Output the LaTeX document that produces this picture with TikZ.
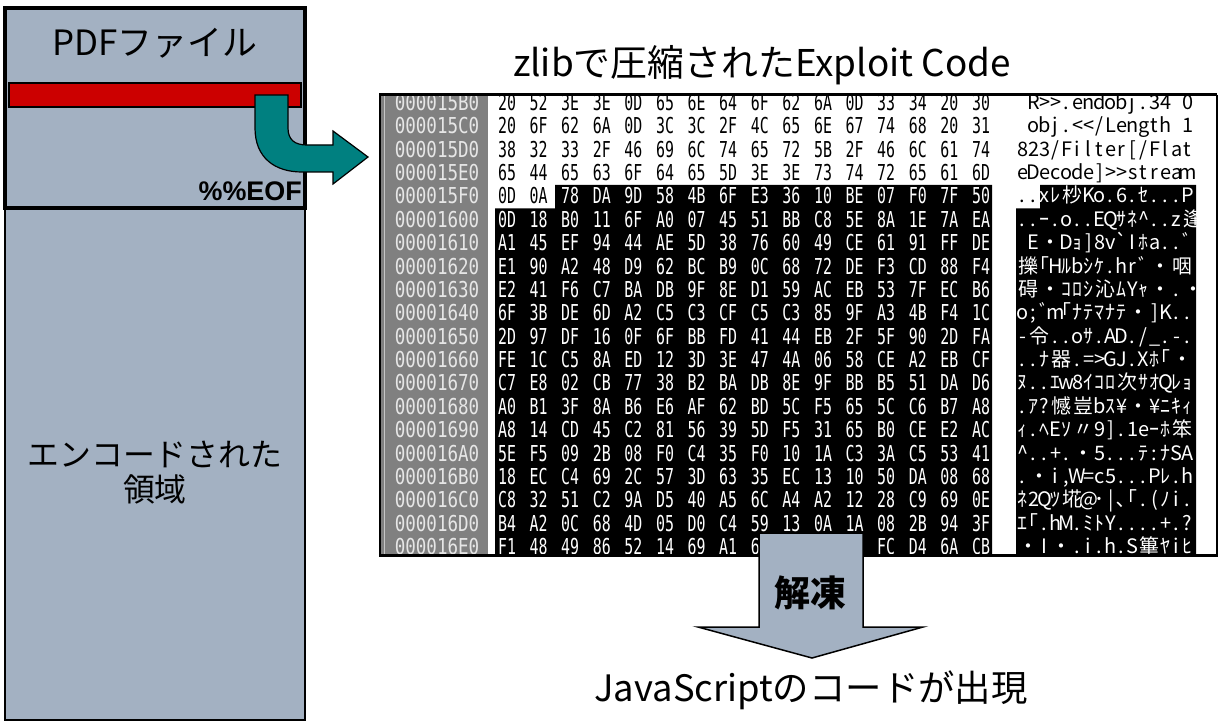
\documentclass[tikz,border=0pt]{standalone}
\usepackage{fontspec}
\setmainfont{Noto Sans CJK JP}
\newfontfamily\hexfont[FakeStretch=0.68]{DejaVu Sans Mono}
\newfontfamily\adrfont[FakeStretch=0.8]{DejaVu Sans Mono}
\newfontfamily\dumpfont{Noto Sans CJK JP}
\newfontfamily\eoffont{Liberation Sans}
\definecolor{boxgrey}{HTML}{A3B1C2}
\definecolor{tealarrow}{HTML}{008080}
\definecolor{pdfred}{HTML}{CC0000}
\definecolor{adrgrey}{HTML}{808080}
\definecolor{adrtext}{HTML}{E6E6E6}
\newlength\cellwd \setlength\cellwd{11bp}
\def\tcells#1{\tcellsA#1\relax}
\def\tcellsA#1{\ifx\relax#1\else\tcellone{#1}\expandafter\tcellsA\fi}
\def\tcellone#1{\ifnum`#1>"1FFF \ifnum`#1>"FF60 \ifnum`#1<"FFA0 \hbox to\cellwd{\hss#1\hss}\else\hbox to2\cellwd{\hss#1\hss}\fi\else\hbox to2\cellwd{\hss#1\hss}\fi\else\hbox to\cellwd{\hss#1\hss}\fi}
\tikzset{
  hexcell/.style={inner sep=0, font=\hexfont\fontsize{22}{22}\selectfont, text height=16bp, text depth=1bp},
  adrcell/.style={inner sep=0, font=\adrfont\fontsize{22}{22}\selectfont, text=adrtext, text height=16bp, text depth=1bp},
  dumpline/.style={inner sep=0, anchor=west, font=\dumpfont\fontsize{20}{20}\selectfont, text height=16bp, text depth=3bp},
  biglabel/.style={inner sep=0, font=\fontsize{34}{36}\selectfont},
  blockarrow/.style={fill=boxgrey, draw=black, line width=1.5bp, line join=miter},
}
\begin{document}
\def\^{\char94 }
\begin{tikzpicture}[x=1bp,y=-1bp]
\useasboundingbox (0,0) rectangle (1220,722);
\fill[white] (0,0) rectangle (1220,722);
% ---- left PDF file column
\draw[fill=boxgrey, line width=1.5bp] (5,208) rectangle (305,720);
\draw[fill=boxgrey, line width=4.5bp] (5,8) rectangle (305,208);
\draw[fill=pdfred, line width=1.5bp] (9,83) rectangle (301,107);
\node[biglabel, font=\fontsize{35}{36}\selectfont] (pdf) at (155,43) {PDFファイル};
\node[inner sep=0, anchor=east, font=\eoffont\bfseries\fontsize{27}{27}\selectfont] (eof) at (302,191) {\%\%EOF};
\node[inner sep=0, align=center, font=\fontsize{32}{35}\selectfont] (enc) at (155,473) {エンコードされた\\領域};
% ---- title
\node[biglabel, font=\fontsize{37}{38}\selectfont] (title) at (762,65) {zlibで圧縮されたExploit Code};
% ---- hex dump
\fill[adrgrey] (381,96) rectangle (488,554);
\draw[gray!45, line width=1bp] (384,96) -- (384,554);
% black background
\fill[black] (555,185) -- (992,185) -- (992,555) -- (495,555) -- (495,208.5) -- (555,208.5) -- cycle;
\fill[black] (1040,185) -- (1196,185) -- (1196,555) -- (1016,555) -- (1016,208.5) -- (1040,208.5) -- cycle;
% addresses
\foreach \a [count=\i from 0] in {000015B0,000015C0,000015D0,000015E0,000015F0,00001600,00001610,00001620,00001630,00001640,00001650,00001660,00001670,00001680,00001690,000016A0,000016B0,000016C0,000016D0,000016E0}{
  \node[adrcell] (a\i) at (437,{103+23.37*\i}) {\a};
}
% hex bytes
\foreach \r [count=\i from 0] in {
 {20,52,3E,3E,0D,65,6E,64,6F,62,6A,0D,33,34,20,30},
 {20,6F,62,6A,0D,3C,3C,2F,4C,65,6E,67,74,68,20,31},
 {38,32,33,2F,46,69,6C,74,65,72,5B,2F,46,6C,61,74},
 {65,44,65,63,6F,64,65,5D,3E,3E,73,74,72,65,61,6D},
 {0D,0A,78,DA,9D,58,4B,6F,E3,36,10,BE,07,F0,7F,50},
 {0D,18,B0,11,6F,A0,07,45,51,BB,C8,5E,8A,1E,7A,EA},
 {A1,45,EF,94,44,AE,5D,38,76,60,49,CE,61,91,FF,DE},
 {E1,90,A2,48,D9,62,BC,B9,0C,68,72,DE,F3,CD,88,F4},
 {E2,41,F6,C7,BA,DB,9F,8E,D1,59,AC,EB,53,7F,EC,B6},
 {6F,3B,DE,6D,A2,C5,C3,CF,C5,C3,85,9F,A3,4B,F4,1C},
 {2D,97,DF,16,0F,6F,BB,FD,41,44,EB,2F,5F,90,2D,FA},
 {FE,1C,C5,8A,ED,12,3D,3E,47,4A,06,58,CE,A2,EB,CF},
 {C7,E8,02,CB,77,38,B2,BA,DB,8E,9F,BB,B5,51,DA,D6},
 {A0,B1,3F,8A,B6,E6,AF,62,BD,5C,F5,65,5C,C6,B7,A8},
 {A8,14,CD,45,C2,81,56,39,5D,F5,31,65,B0,CE,E2,AC},
 {5E,F5,09,2B,08,F0,C4,35,F0,10,1A,C3,3A,C5,53,41},
 {18,EC,C4,69,2C,57,3D,63,35,EC,13,10,50,DA,08,68},
 {C8,32,51,C2,9A,D5,40,A5,6C,A4,A2,12,28,C9,69,0E},
 {B4,A2,0C,68,4D,05,D0,C4,59,13,0A,1A,08,2B,94,3F},
 {F1,48,49,86,52,14,69,A1,6B,2C,1D,4E,FC,D4,6A,CB}}{
  \foreach \b [count=\j from 0] in \r {
    \pgfmathtruncatemacro\inv{or(\i>4,and(\i==4,\j>1))}
    \ifnum\inv=1 \def\hc{white}\else\def\hc{black}\fi
    \node[hexcell, text=\hc] (h\i-\j) at ({507+31.6*\j},{103+23.37*\i}) {\b};
  }
}
% text column
\node[dumpline] (t0) at (1017,103.0) {\tcells{~R>>.endobj.34~0}};
\node[dumpline] (t1) at (1017,126.4) {\tcells{~obj.<</Length~1}};
\node[dumpline] (t2) at (1017,149.7) {\tcells{823/Filter[/Flat}};
\node[dumpline] (t3) at (1017,173.1) {\tcells{eDecode]>>stream}};
\node[dumpline] (t4) at (1017,196.5) {\tcells{..}\color{white}\tcells{xﾚ杪Ko.6.ｾ...P}};
\node[dumpline, text=white] (t5) at (1017,219.9) {\tcells{..ｰ.o..EQｻﾈ\^..z逢}};
\node[dumpline, text=white] (t6) at (1017,243.2) {\tcells{~E・Dｮ]8v`Iﾎa..ﾞ}};
\node[dumpline, text=white] (t7) at (1017,266.6) {\tcells{擽｢Hﾙbｼｹ.hrﾞ・咽}};
\node[dumpline, text=white] (t8) at (1017,290.0) {\tcells{碍・ｺﾛｼ沁ﾑYｬ・.・}};
\node[dumpline, text=white] (t9) at (1017,313.3) {\tcells{o;ﾞm｢ﾅﾃﾏﾅﾃ・]K..}};
\node[dumpline, text=white] (t10) at (1017,336.7) {\tcells{-令..oｻ.AD./\_.-.}};
\node[dumpline, text=white] (t11) at (1017,360.1) {\tcells{..ﾅ器.=>GJ.Xﾎ｢・}};
\node[dumpline, text=white] (t12) at (1017,383.4) {\tcells{ﾇ..ｴw8ｲｺﾛ次ｻｵQﾚｮ}};
\node[dumpline, text=white] (t13) at (1017,406.8) {\tcells{.ｱ?憾豈bｽ¥・¥ﾆｷｨ}};
\node[dumpline, text=white] (t14) at (1017,430.2) {\tcells{ｨ.ﾍEｿ〃9].1eｰﾎ笨}};
\node[dumpline, text=white] (t15) at (1017,453.5) {\tcells{\^..+.・5...ﾃ:ﾅSA}};
\node[dumpline, text=white] (t16) at (1017,476.9) {\tcells{.・i,W=c5...Pﾚ.h}};
\node[dumpline, text=white] (t17) at (1017,500.3) {\tcells{ﾈ2Qﾂ埖@･|､｢.(ﾉi.}};
\node[dumpline, text=white] (t18) at (1017,523.6) {\tcells{ｴ｢.hM.ﾐﾄY....+.?}};
\node[dumpline, text=white] (t19) at (1017,547.0) {\tcells{・I・.i.h.S篳ﾔiﾋ}};
% frame
\draw[line width=3bp] (379,95) -- (1217,95);
\draw[line width=2bp] (380,95) -- (380,556);
\draw[line width=2bp] (1217,95) -- (1217,556);
\draw[line width=3bp] (379,555) -- (1218,555);
% ---- teal arrow
\draw[fill=tealarrow, draw=black, line width=1.2bp, line join=miter]
  (255,95) -- (255,128) .. controls (255,158) and (275,172) .. (302,172)
  -- (333,172) -- (333,184) -- (368,157) -- (333,131) -- (333,145) -- (307,145)
  .. controls (295,145) and (288,140) .. (288,128) -- (288,95) -- cycle;
% ---- down arrow
\draw[blockarrow] (759,533) -- (863,533) -- (863,627) -- (923,627) -- (812,658) -- (698,627) -- (759,627) -- cycle;
\node[inner sep=0, font=\bfseries\fontsize{36}{36}\selectfont] (thaw) at (810,593) {解凍};
\node[biglabel, font=\fontsize{36.5}{38}\selectfont] (js) at (811,690) {JavaScriptのコードが出現};
\end{tikzpicture}
\end{document}
